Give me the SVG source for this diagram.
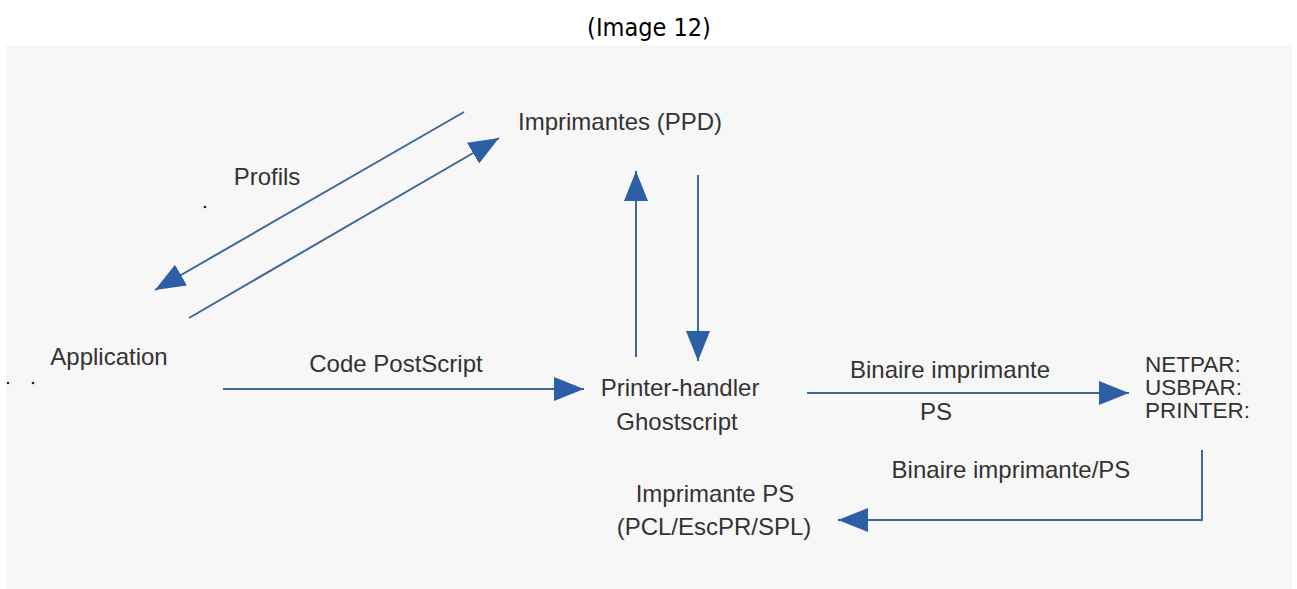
<svg xmlns="http://www.w3.org/2000/svg" width="1297" height="589" viewBox="0 0 1297 589">
<defs>
<style>
.t{font-family:"Liberation Sans",Arial,sans-serif;font-size:24px;fill:#333333}
.p{font-family:"Liberation Sans",Arial,sans-serif;font-size:22.5px;fill:#333333}
.c{fill:none;stroke:#3d6898;stroke-width:2}
.title{font-family:"DejaVu Sans Condensed","Liberation Sans Narrow",sans-serif;font-size:25px;fill:#000}
</style>
<marker id="ah" markerUnits="userSpaceOnUse" markerWidth="32" markerHeight="26" refX="30" refY="12" orient="auto">
<path d="M0,0 L30,12 L0,24 Z" fill="#2c5fa5"/>
</marker>
</defs>
<rect width="1297" height="589" fill="#ffffff"/>
<text class="title" x="649" y="36" text-anchor="middle">(Image 12)</text>
<rect x="6" y="45" width="1286" height="544" fill="#f7f7f7"/>
<g id="connectors">
<path class="c" d="M464,112 L155,290" marker-end="url(#ah)"/>
<path class="c" d="M189,318 L499,138" marker-end="url(#ah)"/>
<path class="c" d="M636,357 L636,171" marker-end="url(#ah)"/>
<path class="c" d="M698,175 L698,361" marker-end="url(#ah)"/>
<path class="c" d="M223,389 L584,389" marker-end="url(#ah)"/>
<path class="c" d="M807,393 L1129,393" marker-end="url(#ah)"/>
<path class="c" d="M1202,450 L1202,520 L838,520" marker-end="url(#ah)"/>
</g>
<g id="labels">
<text class="t" x="267" y="185" text-anchor="middle">Profils</text>
<text class="t" x="396" y="372" text-anchor="middle">Code PostScript</text>
<text class="t" x="950" y="378" text-anchor="middle">Binaire imprimante</text>
<text class="t" x="936" y="420" text-anchor="middle">PS</text>
<text class="t" x="1011" y="478" text-anchor="middle">Binaire imprimante/PS</text>
</g>
<g id="node-application">
<text class="t" x="109" y="365" text-anchor="middle">Application</text>
</g>
<g id="node-imprimantes">
<text class="t" x="620" y="130" text-anchor="middle">Imprimantes (PPD)</text>
</g>
<g id="node-printer-handler">
<text class="t" x="680" y="396" text-anchor="middle">Printer-handler</text>
<text class="t" x="677" y="430" text-anchor="middle">Ghostscript</text>
</g>
<g id="node-ports">
<text class="p" x="1145" y="372">NETPAR:</text>
<text class="p" x="1145" y="395">USBPAR:</text>
<text class="p" x="1145" y="418">PRINTER:</text>
</g>
<g id="node-imprimante-ps">
<text class="t" x="715" y="502" text-anchor="middle">Imprimante PS</text>
<text class="t" x="714" y="535" text-anchor="middle">(PCL/EscPR/SPL)</text>
</g>
<g id="specks" fill="#222">
<circle cx="205" cy="207" r="1.3"/>
<circle cx="8" cy="383" r="1.3"/>
<circle cx="33" cy="383" r="1.3"/>
</g>
</svg>
